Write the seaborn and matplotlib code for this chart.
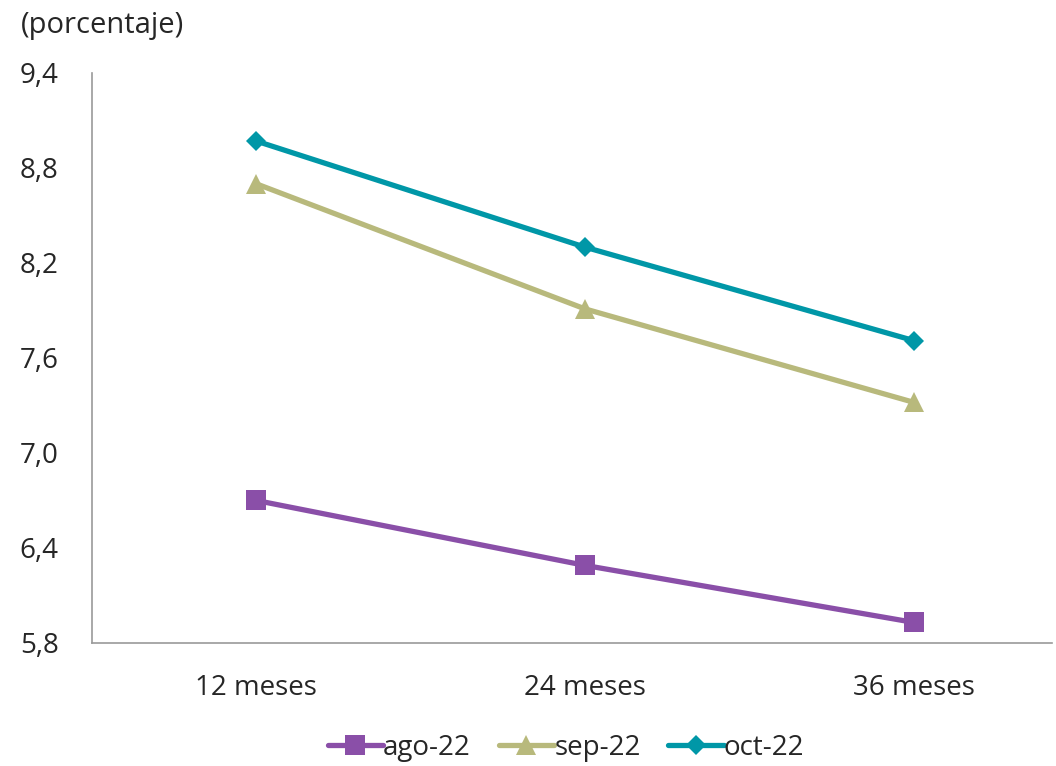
import matplotlib
matplotlib.use("Agg")
import matplotlib.pyplot as plt
import seaborn as sns
import pandas as pd

plazos = ["12 meses", "24 meses", "36 meses"]
ago_22 = [6.70, 6.29, 5.93]
sep_22 = [8.70, 7.91, 7.32]
oct_22 = [8.97, 8.30, 7.71]

series = {"ago-22": ago_22, "sep-22": sep_22, "oct-22": oct_22}
colores = {"ago-22": "#8A4FA8", "sep-22": "#B8B97C", "oct-22": "#0097A7"}
marcas = {"ago-22": ("s", 14), "sep-22": ("^", 14), "oct-22": ("D", 10)}

df = pd.DataFrame([(p, k, v) for k, vals in series.items() for p, v in zip(plazos, vals)],
                  columns=["plazo", "serie", "valor"])

sns.set_style("white")
plt.rcParams["font.family"] = ["Open Sans", "DejaVu Sans"]
txt = "#262626"
fs = 20

fig = plt.figure(figsize=(10.56, 7.66), dpi=100)
ax = fig.add_axes([0.0871, 0.1606, 0.9089, 0.7441])

for k in series:
    m, ms = marcas[k]
    sns.lineplot(data=df[df["serie"] == k], x="plazo", y="valor", ax=ax,
                 color=colores[k], lw=3.8, marker=m, markersize=ms,
                 markeredgewidth=0, label=k, sort=False)

ax.set_ylim(5.8, 9.4)
ax.set_yticks([5.8, 6.4, 7.0, 7.6, 8.2, 8.8, 9.4])
ax.set_yticklabels([f"{t:.1f}".replace(".", ",") for t in ax.get_yticks()])
ax.set_xlim(-0.5, 2.42)
ax.set_xlabel("")
ax.set_ylabel("")
ax.tick_params(axis="both", length=0, labelsize=fs, labelcolor=txt)
ax.tick_params(axis="x", pad=22)
ax.tick_params(axis="y", pad=24)
for s in ["top", "right"]:
    ax.spines[s].set_visible(False)
for s in ["left", "bottom"]:
    ax.spines[s].set_color("#9a9a9a")
    ax.spines[s].set_linewidth(1.2)

ax.legend_.remove()
h, l = ax.get_legend_handles_labels()
fig.legend(h, l, loc="center", bbox_to_anchor=(0.536, 0.024), ncol=3,
           frameon=False, fontsize=fs, labelcolor=txt, handlelength=2.0,
           handletextpad=0.0, columnspacing=1.0)

fig.text(0.02, 0.967, "(porcentaje)", fontsize=21, color=txt, va="center", ha="left")

fig.savefig("out.png", dpi=100)
